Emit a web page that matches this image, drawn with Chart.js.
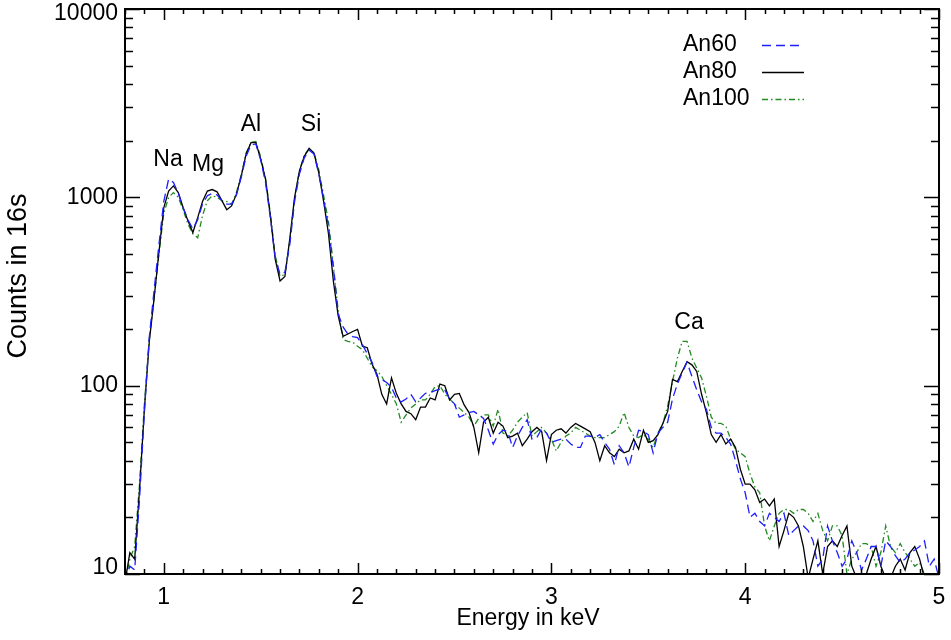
<!DOCTYPE html>
<html>
<head>
<meta charset="utf-8">
<script src="https://cdn.jsdelivr.net/npm/chart.js@4.4.0/dist/chart.umd.min.js"></script>
<style>
  html, body { margin: 0; padding: 0; background: #fff; }
  canvas { display: block; }
</style>
</head>
<body>
<canvas id="spectrum" width="951" height="640"></canvas>
<script>
// energy bins (keV)
const energy = [
  0.800, 0.825, 0.850, 0.875, 0.900, 0.925, 0.950, 0.975, 1.000, 1.025,
  1.050, 1.075, 1.100, 1.125, 1.150, 1.175, 1.200, 1.225, 1.250, 1.275,
  1.300, 1.325, 1.350, 1.375, 1.400, 1.425, 1.450, 1.475, 1.500, 1.525,
  1.550, 1.575, 1.600, 1.625, 1.650, 1.675, 1.700, 1.725, 1.750, 1.775,
  1.800, 1.825, 1.850, 1.875, 1.900, 1.925, 1.950, 1.975, 2.000, 2.025,
  2.050, 2.075, 2.100, 2.125, 2.150, 2.175, 2.200, 2.225, 2.250, 2.275,
  2.300, 2.325, 2.350, 2.375, 2.400, 2.425, 2.450, 2.475, 2.500, 2.525,
  2.550, 2.575, 2.600, 2.625, 2.650, 2.675, 2.700, 2.725, 2.750, 2.775,
  2.800, 2.825, 2.850, 2.875, 2.900, 2.925, 2.950, 2.975, 3.000, 3.025,
  3.050, 3.075, 3.100, 3.125, 3.150, 3.175, 3.200, 3.225, 3.250, 3.275,
  3.300, 3.325, 3.350, 3.375, 3.400, 3.425, 3.450, 3.475, 3.500, 3.525,
  3.550, 3.575, 3.600, 3.625, 3.650, 3.675, 3.700, 3.725, 3.750, 3.775,
  3.800, 3.825, 3.850, 3.875, 3.900, 3.925, 3.950, 3.975, 4.000, 4.025,
  4.050, 4.075, 4.100, 4.125, 4.150, 4.175, 4.200, 4.225, 4.250, 4.275,
  4.300, 4.325, 4.350, 4.375, 4.400, 4.425, 4.450, 4.475, 4.500, 4.525,
  4.550, 4.575, 4.600, 4.625, 4.650, 4.675, 4.700, 4.725, 4.750, 4.775,
  4.800, 4.825, 4.850, 4.875, 4.900, 4.925, 4.950, 4.975, 5.000
];

const an60 = [
  9, 11, 10.5, 25, 72, 180, 320, 560, 950, 1250,
  1200, 1050, 880, 760, 680, 760, 920, 1020, 1050, 1030,
  960, 920, 920, 1030, 1280, 1650, 1900, 1920, 1580, 1200,
  780, 480, 390, 400, 560, 950, 1330, 1620, 1780, 1700,
  1330, 980, 700, 420, 240, 205, 188, 182, 180, 165,
  148, 133, 112, 108, 104, 98, 86, 82, 85, 90,
  82, 86, 91, 92, 94, 96, 95, 85, 80, 68,
  70, 72, 73, 70, 67, 58, 49, 55, 58, 57,
  47, 54, 60, 66, 52, 53, 59, 56, 50, 51,
  52, 52, 49, 47, 47, 54, 54, 53, 55, 50,
  46, 38, 48, 44, 37, 47, 58, 57, 55, 44,
  56, 60, 64, 85, 102, 117, 133, 112, 95, 82,
  75, 60, 56, 56, 53, 49, 40, 32, 27, 20,
  21, 19, 18, 21, 20, 19, 21, 16, 17, 18,
  18, 17, 15, 11, 12, 18, 15, 13, 11, 12,
  15, 13, 10.5, 12, 14, 14, 11, 15, 14, 12.5,
  11.5, 12, 13, 13.4, 14, 15, 11, 12, 9.5
];

const an80 = [
  9, 13, 12, 28, 75, 170, 290, 510, 880, 1080,
  1150, 1060, 880, 750, 650, 780, 950, 1080, 1100, 1070,
  960, 860, 900, 1040, 1300, 1700, 1950, 1950, 1600, 1250,
  800, 470, 360, 380, 600, 1000, 1380, 1650, 1820, 1720,
  1350, 950, 640, 360, 235, 183, 188, 194, 199, 162,
  159, 130, 115, 90, 80, 110, 91, 80, 73, 71,
  66, 77, 77, 86, 84, 102, 100, 84, 90, 91,
  79, 72, 60, 44, 64, 68, 56, 64, 61, 53,
  54, 56, 48, 52, 57, 60, 57, 40, 55, 58,
  59, 56, 60, 63, 61, 59, 57, 50, 40, 48,
  44, 42, 46, 44, 45, 52, 46, 58, 50, 51,
  55, 63, 73, 108, 105, 119, 134, 129, 119, 90,
  72, 55, 50, 55, 49, 52, 47, 36, 30, 30,
  28, 24, 25, 23, 25, 14, 17, 21, 20, 18,
  14, 9.5, 12, 15, 10, 14, 15, 14, 16, 18,
  11, 9.5, 10, 10, 12, 14, 11, 9.5, 9.5, 11,
  12, 10.5, 13, 14, 12, 9.5, 9, 9, 9
];

const an100 = [
  9, 12, 14, 30, 80, 175, 290, 500, 820, 1000,
  1060, 1000, 860, 720, 640, 610, 800, 960, 1020, 1000,
  960, 950, 920, 1060, 1320, 1720, 1960, 1980, 1640, 1260,
  820, 490, 380, 390, 580, 980, 1380, 1680, 1800, 1730,
  1400, 1020, 740, 440, 250, 176, 172, 170, 162, 155,
  140, 126, 120, 112, 100, 90, 80, 64, 70, 76,
  80, 84, 84, 90, 99, 100, 90, 85, 80, 76,
  72, 68, 61, 67, 70, 70, 61, 75, 56, 54,
  58, 64, 68, 72, 54, 57, 60, 56, 52, 45,
  50, 54, 56, 60, 58, 56, 54, 53, 53, 53,
  55, 57, 61, 72, 60, 54, 53, 55, 52, 47,
  56, 63, 78, 105, 140, 172, 172, 140, 124, 110,
  88, 68, 63, 63, 61, 52, 46, 44, 42, 34,
  29, 27, 18, 15, 18, 21, 22, 22, 21, 22,
  22, 21, 19, 21, 17, 15, 18, 18, 16, 10,
  12, 13, 14.5, 14.5, 14, 11, 13, 18, 14, 13,
  14.5, 13, 12, 11, 11.5, 10, 9.5, 9, 9
];

const seriesNames = ["An60", "An80", "An100"];
const xTicks = [1, 2, 3, 4, 5];
const yTicks = [10, 100, 1000, 10000];

// element lines and where their names sit
const peakNames = ["Na", "Mg", "Al", "Si", "Ca"];
const peakEnergy = [1.022, 1.228, 1.45, 1.76, 3.71];
const peakCounts = [1590, 1500, 2420, 2420, 216];

[an60, an80, an100].forEach(function (s, i) {
    if (s.length !== energy.length) {
        throw new Error(seriesNames[i] + " has " + s.length + " values, energy has " + energy.length);
    }
});

function toPoints(values) {
    return values.map(function (v, i) { return { x: energy[i], y: v }; });
}

const FONT = '"Liberation Sans", Arial, Helvetica, sans-serif';
const colors = ["rgb(30,30,255)", "#000000", "rgb(34,139,34)"];
const dashes = [[9, 5], [], [6, 3, 1.5, 3]];

// IDL style frame: box with inward ticks on all four sides, legend, labels
const framePlugin = {
    id: "frame",
    afterDatasetsDraw: function (chart) {
        const ctx = chart.ctx;
        const area = chart.chartArea;
        const xs = chart.scales.x;
        const ys = chart.scales.y;
        ctx.save();
        ctx.strokeStyle = "#000";
        ctx.lineWidth = 2;
        ctx.setLineDash([]);
        ctx.strokeRect(area.left, area.top, area.right - area.left, area.bottom - area.top);

        ctx.lineWidth = 1.5;
        ctx.beginPath();
        // x ticks every 0.1 keV, major at whole keV
        for (var k = 8; k <= 50; k++) {
            var px = Math.round(xs.getPixelForValue(k / 10)) + 0.5;
            var len = (k % 10 === 0) ? 11 : 5;
            ctx.moveTo(px, area.bottom); ctx.lineTo(px, area.bottom - len);
            ctx.moveTo(px, area.top); ctx.lineTo(px, area.top + len);
        }
        // y ticks, 2..9 inside each decade
        for (var d = 10; d <= 10000; d *= 10) {
            for (var m = 1; m <= 9; m++) {
                var v = d * m;
                if (v > 10000) break;
                var py = Math.round(ys.getPixelForValue(v)) + 0.5;
                var l = (m === 1) ? 15 : 8;
                ctx.moveTo(area.left, py); ctx.lineTo(area.left + l, py);
                ctx.moveTo(area.right, py); ctx.lineTo(area.right - l, py);
            }
        }
        ctx.stroke();

        ctx.fillStyle = "#000";
        ctx.font = "23px " + FONT;

        // y tick labels, the end ones kept inside the frame height
        ctx.textAlign = "right";
        ctx.textBaseline = "middle";
        yTicks.forEach(function (t) {
            var y = Math.min(Math.max(ys.getPixelForValue(t), area.top + 5), area.bottom - 6);
            ctx.fillText(String(t), area.left - 7, y);
        });

        // element names
        ctx.textAlign = "center";
        peakNames.forEach(function (name, i) {
            ctx.fillText(name, xs.getPixelForValue(peakEnergy[i]), ys.getPixelForValue(peakCounts[i]));
        });

        // legend: name then line sample
        ctx.textAlign = "left";
        seriesNames.forEach(function (name, i) {
            var y = 45 + i * 27;
            ctx.fillStyle = "#000";
            ctx.fillText(name, 683, y);
            ctx.strokeStyle = colors[i];
            ctx.lineWidth = 1.3;
            ctx.setLineDash(dashes[i]);
            ctx.beginPath();
            ctx.moveTo(762, y + 0.5);
            ctx.lineTo(804, y + 0.5);
            ctx.stroke();
        });
        ctx.setLineDash([]);

        // axis titles
        ctx.fillStyle = "#000";
        ctx.textAlign = "center";
        ctx.textBaseline = "middle";
        ctx.font = "23px " + FONT;
        ctx.fillText("Energy in keV", 528, 619);
        ctx.translate(19, 276);
        ctx.rotate(-Math.PI / 2);
        ctx.font = "27px " + FONT;
        ctx.fillText("Counts in 16s", 0, 0);
        ctx.restore();
    }
};

new Chart(document.getElementById("spectrum"), {
    type: "line",
    data: {
        datasets: [an60, an80, an100].map(function (s, i) {
            return {
                label: seriesNames[i],
                data: toPoints(s),
                borderColor: colors[i],
                borderWidth: 1.3,
                borderDash: dashes[i],
                pointRadius: 0,
                tension: 0,
                fill: false,
                clip: 0
            };
        })
    },
    options: {
        responsive: false,
        animation: false,
        events: [],
        layout: { padding: { top: 9, right: 12, left: 0, bottom: 0 } },
        plugins: {
            legend: { display: false },
            tooltip: { enabled: false }
        },
        scales: {
            x: {
                type: "linear",
                min: 0.8,
                max: 5,
                grid: { display: false, drawTicks: false },
                border: { display: false },
                afterBuildTicks: function (scale) {
                    scale.ticks = xTicks.map(function (v) { return { value: v }; });
                },
                afterFit: function (scale) {
                    scale.height = 66;
                    scale.paddingLeft = 0;
                    scale.paddingRight = 0;
                },
                ticks: {
                    autoSkip: false,
                    maxRotation: 0,
                    padding: 10,
                    color: "#000",
                    font: { size: 23, family: FONT },
                    callback: function (v) { return String(v); }
                }
            },
            y: {
                type: "logarithmic",
                min: 10,
                max: 10000,
                grid: { display: false, drawTicks: false },
                border: { display: false },
                afterBuildTicks: function (scale) {
                    scale.ticks = yTicks.map(function (v) { return { value: v }; });
                },
                afterFit: function (scale) {
                    scale.width = 125;
                    scale.paddingTop = 0;
                    scale.paddingBottom = 0;
                },
                // labels are drawn by the frame plugin so the end ones can be nudged
                ticks: { display: false }
            }
        }
    },
    plugins: [framePlugin]
});
</script>
</body>
</html>
